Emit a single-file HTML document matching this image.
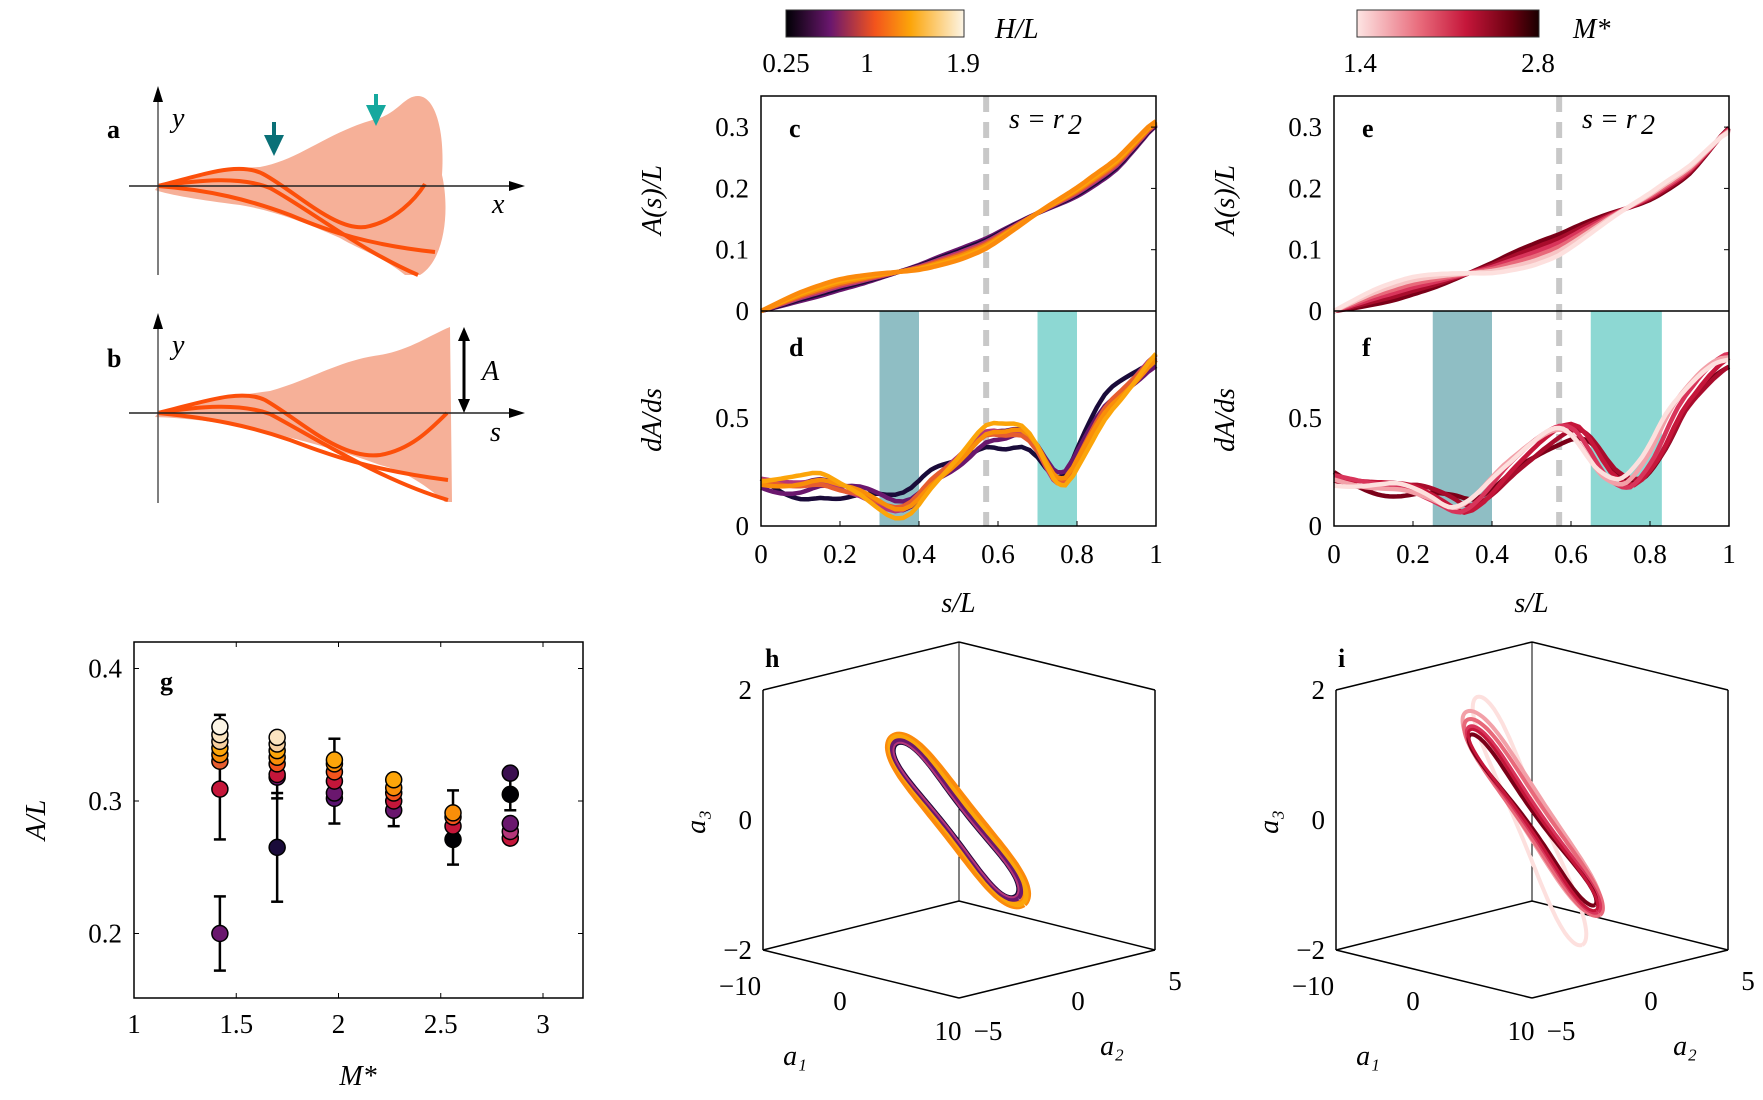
<!DOCTYPE html>
<html><head><meta charset="utf-8"><style>
html,body{margin:0;padding:0;background:#fff}
svg{display:block}
text{font-family:"Liberation Serif",serif;fill:#000}
.t{font-size:27px}
.it{font-style:italic;font-size:28px}
.b{font-weight:bold;font-size:26px}
</style></head><body>
<svg id="s" width="1763" height="1100" viewBox="0 0 1763 1100" xmlns="http://www.w3.org/2000/svg">
<defs>
<linearGradient id="g1" x1="0" x2="1"><stop offset="0" stop-color="#000004"/><stop offset="0.25" stop-color="#6a176e"/><stop offset="0.5" stop-color="#f3541c"/><stop offset="0.7" stop-color="#fca50a"/><stop offset="1" stop-color="#fcf5e6"/></linearGradient>
<linearGradient id="g2" x1="0" x2="1"><stop offset="0" stop-color="#fde5e3"/><stop offset="0.35" stop-color="#e8697a"/><stop offset="0.6" stop-color="#c5163a"/><stop offset="0.85" stop-color="#6a0010"/><stop offset="1" stop-color="#1a0000"/></linearGradient>
</defs>
<path d="M158,186 C200,172 240,168 260,167 C300,160 330,130 380,118 C400,110 405,96 418,96 C435,96 445,130 442,175 C450,210 445,260 420,275 L405,275 C380,255 360,250 340,238 C300,220 270,210 240,205 C200,200 170,195 155,190 Z" fill="#f6b098"/>
<g fill="none" stroke="#fc4f0a" stroke-width="4">
<path d="M158,186 C200,176 240,160 265,175 C300,195 340,235 370,226 C395,220 415,200 425,184"/>
<path d="M158,186 C200,180 240,176 270,188 C310,210 360,250 418,275"/>
<path d="M158,186 C210,190 250,200 290,215 C330,232 370,245 435,252"/>
</g>
<line x1="158" y1="275" x2="158" y2="98" stroke="#555" stroke-width="1.5"/>
<path d="M158,86 L153,102 L163,102 Z" fill="#000"/>
<line x1="129" y1="186" x2="512" y2="186" stroke="#222" stroke-width="1.5"/>
<path d="M525,186 L509,181 L509,191 Z" fill="#000"/>
<text class="b" x="107" y="138">a</text>
<text class="it" x="172" y="127">y</text>
<text class="it" x="492" y="213">x</text>
<line x1="274" y1="122" x2="274" y2="138" stroke="#0a7077" stroke-width="4"/><path d="M264,135 L284,135 L274,156Z" fill="#0a7077"/>
<line x1="376" y1="94" x2="376" y2="108" stroke="#15a89e" stroke-width="4"/><path d="M366,105 L386,105 L376,126Z" fill="#15a89e"/>
<path d="M158,413 C200,400 240,395 270,391 C310,380 340,360 380,355 C410,350 430,335 450,327 L452,502 L445,502 C420,480 400,470 380,465 C340,450 300,440 260,430 C210,420 180,418 155,417 Z" fill="#f6b098"/>
<g fill="none" stroke="#fc4f0a" stroke-width="4">
<path d="M158,413 C200,403 240,388 265,400 C300,420 340,460 380,455 C410,450 430,430 447,413"/>
<path d="M158,413 C200,406 240,403 270,414 C310,435 380,480 448,500"/>
<path d="M158,413 C210,418 250,426 290,440 C330,455 370,470 448,480"/>
</g>
<line x1="158" y1="503" x2="158" y2="325" stroke="#555" stroke-width="1.5"/>
<path d="M158,313 L153,329 L163,329 Z" fill="#000"/>
<line x1="129" y1="413" x2="512" y2="413" stroke="#222" stroke-width="1.5"/>
<path d="M525,413 L509,408 L509,418 Z" fill="#000"/>
<line x1="464" y1="338" x2="464" y2="402" stroke="#000" stroke-width="3"/>
<path d="M464,327 L458,341 L470,341Z M464,413 L458,399 L470,399Z" fill="#000"/>
<text class="b" x="107" y="367">b</text>
<text class="it" x="172" y="354">y</text>
<text class="it" x="490" y="441">s</text>
<text class="it" x="482" y="380">A</text>
<rect x="786" y="10" width="178" height="27" fill="url(#g1)" stroke="#333"/>
<rect x="1357" y="10" width="182" height="27" fill="url(#g2)" stroke="#333"/>
<text class="it" x="995" y="38">H/L</text>
<text class="it" x="1573" y="38">M*</text>
<text class="t" x="786" y="72" text-anchor="middle">0.25</text>
<text class="t" x="867" y="72" text-anchor="middle">1</text>
<text class="t" x="963" y="72" text-anchor="middle">1.9</text>
<text class="t" x="1360" y="72" text-anchor="middle">1.4</text>
<text class="t" x="1538" y="72" text-anchor="middle">2.8</text>
<g id="dyn"></g>
</svg>
<script>
var NS="http://www.w3.org/2000/svg",D=document.getElementById("dyn");
function el(t,a,tx){var e=document.createElementNS(NS,t);for(var k in a)e.setAttribute(k,a[k]);if(tx!=null)e.textContent=tx;D.appendChild(e);return e;}
function interp(p,x){for(var i=0;i<p.length-1;i++){if(x<=p[i+1][0]){var t=(x-p[i][0])/(p[i+1][0]-p[i][0]);return p[i][1]+t*(p[i+1][1]-p[i][1]);}}return p[p.length-1][1];}
function smooth(p,x){var h=0.02;return (interp(p,x-h)+2*interp(p,x)+interp(p,x+h))/4;}
var Ap=[[0,0],[0.1,0.025],[0.2,0.045],[0.3,0.058],[0.4,0.07],[0.5,0.09],[0.57,0.108],[0.7,0.16],[0.8,0.195],[0.9,0.24],[1,0.31]];
var dp=[[0,0.22],[0.05,0.2],[0.1,0.19],[0.15,0.2],[0.2,0.16],[0.25,0.14],[0.3,0.1],[0.34,0.07],[0.38,0.1],[0.43,0.22],[0.5,0.32],[0.57,0.44],[0.62,0.42],[0.66,0.43],[0.7,0.35],[0.74,0.2],[0.77,0.18],[0.8,0.3],[0.87,0.55],[0.95,0.7],[1,0.8]];
var dpf=[[0,0.24],[0.1,0.2],[0.2,0.17],[0.28,0.1],[0.33,0.05],[0.38,0.12],[0.45,0.28],[0.52,0.4],[0.58,0.47],[0.62,0.46],[0.66,0.35],[0.7,0.22],[0.76,0.16],[0.82,0.3],[0.88,0.55],[0.95,0.72],[1,0.8]];
function panel(X0,lab1,lab2,bands,colsA,colsD,dataD,variant){
 var W=395,top=96,mid=311,bot=526;
 bands.forEach(function(b,i){el("rect",{x:X0+b[0]*W,y:mid,width:(b[1]-b[0])*W,height:bot-mid,fill:i?"#8dd8d3":"#8fbec4"});});
 el("line",{x1:X0+0.57*W,y1:top,x2:X0+0.57*W,y2:bot,stroke:"#c8c8c8","stroke-width":6,"stroke-dasharray":"16,10"});
 colsA.forEach(function(c,k){var s="";for(var i=0;i<=100;i++){var x=i/100;var v=smooth(Ap,x)+ (k-colsA.length/2)*0.003*Math.sin(x*9)*(variant?2:1) - (variant? k*0.004*x*x:0);s+=(i?"L":"M")+(X0+x*W).toFixed(1)+","+(mid-v*613).toFixed(1);}el("path",{d:s,fill:"none",stroke:c,"stroke-width":4.5});});
 colsD.forEach(function(c,k){var s="";for(var i=0;i<=100;i++){var x=i/100;var sh=variant?(2-k)*0.012:0;var v=smooth(dataD,x-sh)+(k-colsD.length/2)*0.02*Math.sin(x*13+k);v=Math.max(0.02,v);s+=(i?"L":"M")+(X0+x*W).toFixed(1)+","+(bot-v*216).toFixed(1);}el("path",{d:s,fill:"none",stroke:c,"stroke-width":4.5});});
 el("rect",{x:X0,y:top,width:W,height:bot-top,fill:"none",stroke:"#000","stroke-width":1.5});
 el("line",{x1:X0,y1:mid,x2:X0+W,y2:mid,stroke:"#000","stroke-width":1.5});
 [[0,"0"],[0.1,"0.1"],[0.2,"0.2"],[0.3,"0.3"]].forEach(function(t){var y=mid-t[0]*613;el("text",{"class":"t",x:X0-12,y:y+9,"text-anchor":"end"},t[1]);el("line",{x1:X0+W-5,y1:y,x2:X0+W,y2:y,stroke:"#000"});});
 [[0,"0"],[0.5,"0.5"]].forEach(function(t){var y=bot-t[0]*216;el("text",{"class":"t",x:X0-12,y:y+9,"text-anchor":"end"},t[1]);});
 for(var i=0;i<=5;i++){var x=X0+i*0.2*W;el("text",{"class":"t",x:x,y:563,"text-anchor":"middle"},i==0?"0":i==5?"1":(i*0.2).toFixed(1));el("line",{x1:x,y1:bot,x2:x,y2:bot-5,stroke:"#000"});}
 el("text",{"class":"b",x:X0+28,y:137},lab1);el("text",{"class":"b",x:X0+28,y:356},lab2);
 el("text",{"class":"it",x:X0+248,y:128},"s = r");el("text",{"class":"it",x:X0+307,y:134,"font-size":"19"},"2");
 el("text",{"class":"it",transform:"translate("+(X0-100)+",200) rotate(-90)","text-anchor":"middle"},"A(s)/L");
 el("text",{"class":"it",transform:"translate("+(X0-100)+",420) rotate(-90)","text-anchor":"middle"},"dA/ds");
 el("text",{"class":"it",x:X0+W/2,y:612,"text-anchor":"middle"},"s/L");
}
panel(761,"c","d",[[0.3,0.4],[0.7,0.8]],["#6a176e","#1a0b3a","#b5367a","#e65d2f","#f98e09","#fca50a","#fb8a0c"],["#1a0b3a","#6a176e","#57106e","#b5367a","#e65d2f","#f98e09","#fca50a"],dp,false);
panel(1334,"e","f",[[0.25,0.4],[0.65,0.83]],["#7a0018","#a80c2c","#d8345a","#e8697a","#f7c4c4","#fde0de"],["#7a0018","#a80c2c","#c5163a","#d8345a","#f2a0a8","#fde0de"],dpf,true);
(function(){var L=134,R=583,T=642,B=998;function Y(v){return 801-(v-0.3)*1325;}function X(m){return L+(m-1)*204.5;}
 el("rect",{x:L,y:T,width:R-L,height:B-T,fill:"none",stroke:"#000","stroke-width":1.5});
 [[0.2,"0.2"],[0.3,"0.3"],[0.4,"0.4"]].forEach(function(t){var y=Y(t[0]);el("text",{"class":"t",x:L-12,y:y+9,"text-anchor":"end"},t[1]);el("line",{x1:L,y1:y,x2:L+5,y2:y,stroke:"#000"});el("line",{x1:R-5,y1:y,x2:R,y2:y,stroke:"#000"});});
 [[1,"1"],[1.5,"1.5"],[2,"2"],[2.5,"2.5"],[3,"3"]].forEach(function(t){var x=X(t[0]);el("text",{"class":"t",x:x,y:1033,"text-anchor":"middle"},t[1]);el("line",{x1:x,y1:B,x2:x,y2:B-5,stroke:"#000"});el("line",{x1:x,y1:T,x2:x,y2:T+5,stroke:"#000"});});
 el("text",{"class":"it",x:358,y:1085,"text-anchor":"middle"},"M*");
 el("text",{"class":"it",transform:"translate(45,820) rotate(-90)","text-anchor":"middle"},"A/L");
 el("text",{"class":"b",x:160,y:690},"g");
 var E=[[1.42,0.2,0.172,0.228],[1.42,0.309,0.271,0.365],[1.70,0.265,0.224,0.306],[1.70,0.31,0.302,0.352],[1.98,0.315,0.283,0.347],[2.27,0.3,0.281,0.32],[2.56,0.28,0.252,0.308],[2.84,0.305,0.293,0.322]];
 E.forEach(function(e){var x=X(e[0]);el("line",{x1:x,y1:Y(e[2]),x2:x,y2:Y(e[3]),stroke:"#000","stroke-width":2.5});el("line",{x1:x-6,y1:Y(e[2]),x2:x+6,y2:Y(e[2]),stroke:"#000","stroke-width":2.5});el("line",{x1:x-6,y1:Y(e[3]),x2:x+6,y2:Y(e[3]),stroke:"#000","stroke-width":2.5});});
 var P=[[1.42,0.2,"#6a176e"],[1.42,0.309,"#c5163a"],[1.42,0.33,"#e65d2f"],[1.42,0.335,"#f98e09"],[1.42,0.34,"#fca50a"],[1.42,0.345,"#f7d0a0"],[1.42,0.35,"#fbe4c0"],[1.42,0.356,"#fcf5e6"],
 [1.70,0.265,"#1a0b3a"],[1.70,0.318,"#6a176e"],[1.70,0.32,"#c5163a"],[1.70,0.328,"#f3541c"],[1.70,0.333,"#f98e09"],[1.70,0.338,"#fca50a"],[1.70,0.343,"#f7d0a0"],[1.70,0.348,"#fbe4c0"],
 [1.98,0.302,"#57106e"],[1.98,0.306,"#6a176e"],[1.98,0.315,"#c5163a"],[1.98,0.322,"#f3541c"],[1.98,0.328,"#f98e09"],[1.98,0.331,"#fca50a"],
 [2.27,0.293,"#6a176e"],[2.27,0.3,"#c5163a"],[2.27,0.306,"#f3541c"],[2.27,0.31,"#f98e09"],[2.27,0.316,"#fca50a"],
 [2.56,0.271,"#000004"],[2.56,0.281,"#c5163a"],[2.56,0.288,"#f3541c"],[2.56,0.291,"#f98e09"],
 [2.84,0.272,"#c5163a"],[2.84,0.277,"#b5367a"],[2.84,0.283,"#6a176e"],[2.84,0.305,"#000004"],[2.84,0.321,"#3b0f50"]];
 P.forEach(function(p){el("circle",{cx:X(p[0]),cy:Y(p[1]),r:8,fill:p[2],stroke:"#000","stroke-width":1.5});});
})();
function box(dx,lab,loops){
 var ln=[[959,642,763,690],[959,642,1155,690],[763,690,763,950],[1155,690,1155,950],[959,642,959,901],[763,950,959,998],[959,998,1155,950],[763,950,959,901],[959,901,1155,950]];
 ln.forEach(function(l){el("line",{x1:l[0]+dx,y1:l[1],x2:l[2]+dx,y2:l[3],stroke:"#000","stroke-width":l[0]==959&&l[2]==959?1:1.5});});
 [[2,690],[0,820],[-2,950]].forEach(function(t){el("text",{"class":"t",x:752+dx,y:t[1]+9,"text-anchor":"end"},t[0]<0?"\u22122":String(t[0]));});
 el("text",{"class":"t",x:740+dx,y:995,"text-anchor":"middle"},"\u221210");
 el("text",{"class":"t",x:840+dx,y:1010,"text-anchor":"middle"},"0");
 el("text",{"class":"t",x:948+dx,y:1040,"text-anchor":"middle"},"10");
 el("text",{"class":"t",x:988+dx,y:1040,"text-anchor":"middle"},"\u22125");
 el("text",{"class":"t",x:1078+dx,y:1010,"text-anchor":"middle"},"0");
 el("text",{"class":"t",x:1175+dx,y:990,"text-anchor":"middle"},"5");
 el("text",{"class":"it",x:795+dx,y:1065,"text-anchor":"middle"},"a\u2081");
 el("text",{"class":"it",x:1112+dx,y:1055,"text-anchor":"middle"},"a\u2082");
 el("text",{"class":"it",transform:"translate("+(705+dx)+",822) rotate(-90)","text-anchor":"middle"},"a\u2083");
 el("text",{"class":"b",x:765+dx,y:667},lab);
 loops.forEach(function(o){var cx=(o[0]+o[2])/2,cy=(o[1]+o[3])/2,ddx=o[2]-o[0],ddy=o[3]-o[1],len=Math.sqrt(ddx*ddx+ddy*ddy),ang=Math.atan2(ddy,ddx);var s="";for(var i=0;i<=120;i++){var t=i/120*2*Math.PI;var u=Math.cos(t)*len/2,v=Math.sin(t)*o[4];v+=3*Math.sin(3*t);var x=cx+u*Math.cos(ang)-v*Math.sin(ang),y=cy+u*Math.sin(ang)+v*Math.cos(ang);s+=(i?"L":"M")+x.toFixed(1)+","+y.toFixed(1);}el("path",{d:s,fill:"none",stroke:o[5],"stroke-width":o[6]});});
}
box(0,"h",[[893,738,1023,903,20,"#fb8a0c",9],[893,738,1023,903,18,"#fca50a",5],[895,742,1018,898,15,"#6a176e",5],[897,745,1015,895,13,"#1a0b3a",2],[896,744,1016,896,14,"#b5367a",2]]);
box(573,"i",[[1477,697,1582,945,16,"#fde0de",4],[1466,712,1598,913,18,"#f2a0a8",4],[1467,720,1600,915,16,"#e8697a",4],[1469,727,1598,912,12,"#d8345a",4],[1470,735,1595,905,8,"#7a0018",4],[1470,730,1596,910,10,"#c5163a",3]]);
</script>
</body></html>
